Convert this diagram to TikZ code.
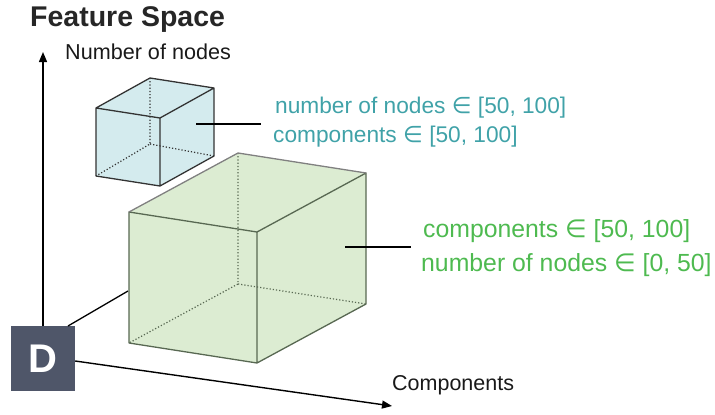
\documentclass[tikz,border=0pt]{standalone}
\usepackage{fontspec}
\setmainfont{Liberation Sans}
\newfontfamily\symfont{DejaVu Sans}
\newcommand{\elem}{{\symfont ∈}}
\usetikzlibrary{arrows.meta}
\definecolor{tealtxt}{RGB}{64,162,168}
\definecolor{greentxt}{RGB}{78,186,80}
\definecolor{bluefill}{RGB}{212,235,238}
\definecolor{greenfill}{RGB}{220,236,210}
\definecolor{greenedge}{RGB}{88,104,82}
\definecolor{dbox}{RGB}{79,86,105}
\tikzset{
  axis/.style={line width=1.4pt,-{Triangle[length=10pt,width=8pt]}},
  blueedge/.style={draw=black!80,line width=1.3pt,line join=round},
  grnedge/.style={draw=greenedge,line width=1.3pt,line join=round},
  hidden/.style={dotted,line width=1.2pt},
  leader/.style={draw=black,line width=1.2pt},
  lbl/.style={anchor=base west,inner sep=0pt},
}
\begin{document}
\begin{tikzpicture}[x=1pt,y=-1pt]
\useasboundingbox (0,0) rectangle (715,415);
% title and axis labels
\node[lbl,font=\fontsize{28.5}{32}\selectfont\bfseries,text=black!85] (title) at (30,27) {Feature Space};
\node[lbl,font=\fontsize{21.6}{24}\selectfont,text=black!90] (ylab) at (65,59) {Number of nodes};
\node[lbl,font=\fontsize{21.5}{24}\selectfont,text=black!90] (xlab) at (392,390) {Components};
% D box
\node[fill=dbox,minimum width=64pt,minimum height=65pt,inner sep=0pt,text=white,font=\fontsize{40}{40}\selectfont\bfseries] (D) at (43,358.5) {D};
% axes
\coordinate (ytip) at (43,52);
\coordinate (xtip) at (392,406);
\coordinate (ztip) at (128,291);
\coordinate (zstart) at (68,326);
\draw[axis] (43,326) -- (ytip);
\draw[axis] (D.east |- 0,361) -- (xtip);
\draw[line width=1.3pt] (zstart) -- (ztip);
% blue cube
\coordinate (b1) at (96,108);
\coordinate (b2) at (160,118);
\coordinate (b3) at (160,186);
\coordinate (b4) at (96,176);
\coordinate (b5) at (150,78);
\coordinate (b6) at (214,88);
\coordinate (b7) at (214,156);
\coordinate (b8) at (150,144);
\fill[bluefill] (b1) -- (b5) -- (b6) -- (b7) -- (b3) -- (b4) -- cycle;
\draw[hidden,black!80] (b5) -- (b8) -- (b4) (b8) -- (b7);
\draw[blueedge] (b1) -- (b2) -- (b3) -- (b4) -- cycle (b1) -- (b5) -- (b6) -- (b2) (b6) -- (b7) -- (b3);
% green box
\coordinate (g1) at (129,212);
\coordinate (g2) at (257,232);
\coordinate (g3) at (257,363);
\coordinate (g4) at (129,343);
\coordinate (g5) at (238,153);
\coordinate (g6) at (366,173);
\coordinate (g7) at (366,304);
\coordinate (g8) at (238,284);
\fill[greenfill] (g1) -- (g5) -- (g6) -- (g7) -- (g3) -- (g4) -- cycle;
\draw[hidden,greenedge] (g5) -- (g8) -- (g4) (g8) -- (g7);
\draw[grnedge] (g1) -- (g2) -- (g3) -- (g4) -- cycle (g2) -- (g6) -- (g7) -- (g3);
\draw[draw=black!50,line width=1.3pt] (g1) -- (g5) -- (g6);
% labels
\node[lbl,font=\fontsize{22.7}{26}\selectfont,text=tealtxt] (t1) at (275,113) {number of nodes \elem{} [50, 100]};
\node[lbl,font=\fontsize{22.7}{26}\selectfont,text=tealtxt] (t2) at (273,142) {components \elem{} [50, 100]};
\node[lbl,font=\fontsize{24.8}{28}\selectfont,text=greentxt] (g1t) at (423,237) {components \elem{} [50, 100]};
\node[lbl,font=\fontsize{24.8}{28}\selectfont,text=greentxt] (g2t) at (421,271) {number of nodes \elem{} [0, 50]};
% leaders
\coordinate (bl) at (196,124);
\coordinate (blend) at (261,124);
\coordinate (gl) at (345,247);
\coordinate (glend) at (411,247);
\draw[leader] (bl) -- (blend);
\draw[leader] (gl) -- (glend);
\end{tikzpicture}
\end{document}
